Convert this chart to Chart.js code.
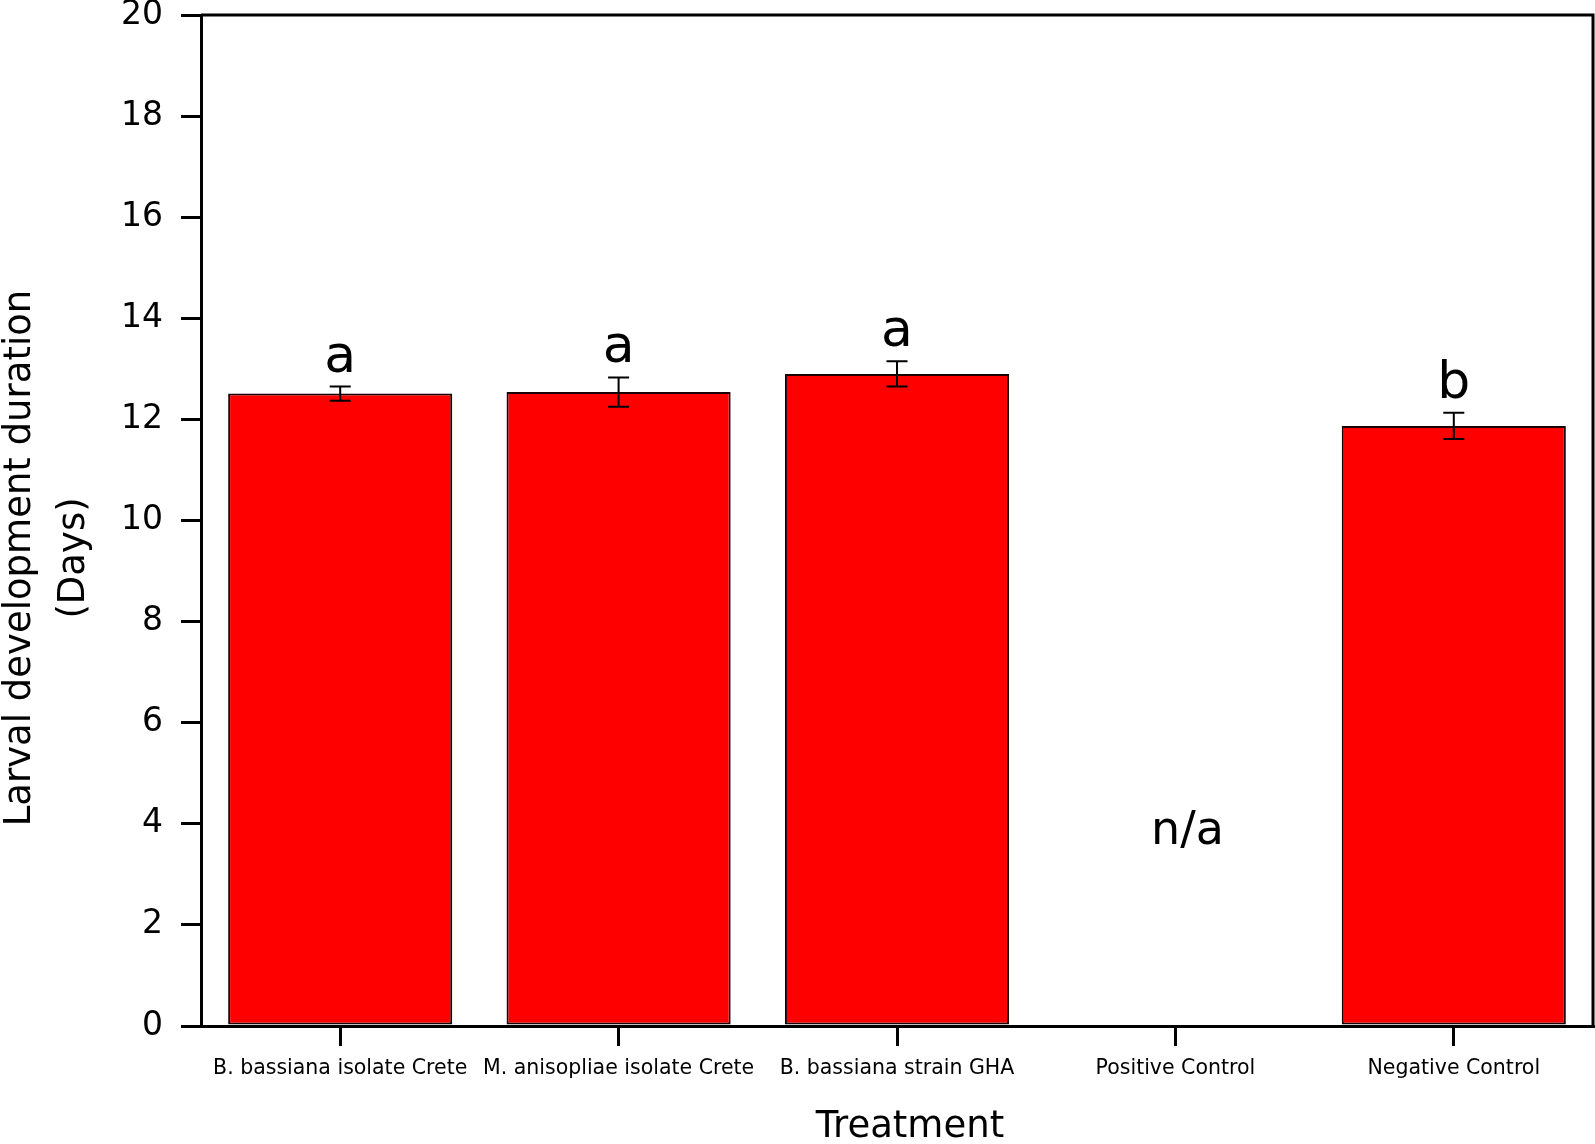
<!DOCTYPE html>
<html>
<head>
<meta charset="utf-8">
<script src="https://cdn.jsdelivr.net/npm/chart.js@4.4.0/dist/chart.umd.min.js"></script>
<style>
  html, body { margin: 0; padding: 0; background: #fff; }
  #wrap { width: 1595px; height: 1144px; }
</style>
</head>
<body>
<div id="wrap"><canvas id="myChart" width="1595" height="1144"></canvas></div>
<script>
var treatments = ['B. bassiana isolate Crete', 'M. anisopliae isolate Crete', 'B. bassiana strain GHA', 'Positive Control', 'Negative Control'];
var meanDays = [12.51, 12.54, 12.90, null, 11.87];
var errDays = [0.14, 0.29, 0.25, null, 0.26];
var letters = ['a', 'a', 'a', '', 'b'];
var missingText = ['', '', '', 'n/a', ''];

var FONT = "'DejaVu Sans', 'Liberation Sans', Arial, sans-serif";

// error bars, significance letters, n/a, frame and axis titles
var extras = {
  id: 'extras',
  afterDatasetsDraw: function(chart) {
    var ctx = chart.ctx;
    var x = chart.scales.x, y = chart.scales.y;
    var area = chart.chartArea;
    ctx.save();
    ctx.strokeStyle = '#000';
    ctx.fillStyle = '#000';
    ctx.lineWidth = 2;
    for (var i = 0; i < treatments.length; i++) {
      var cx = x.getPixelForValue(i);
      if (meanDays[i] != null) {
        var top = y.getPixelForValue(meanDays[i] + errDays[i]);
        var bot = y.getPixelForValue(meanDays[i] - errDays[i]);
        ctx.beginPath();
        ctx.moveTo(cx, top); ctx.lineTo(cx, bot);
        ctx.moveTo(cx - 10.5, top); ctx.lineTo(cx + 10.5, top);
        ctx.moveTo(cx - 10.5, bot); ctx.lineTo(cx + 10.5, bot);
        ctx.stroke();
        ctx.font = '52px ' + FONT;
        ctx.textAlign = 'center';
        ctx.textBaseline = 'alphabetic';
        ctx.fillText(letters[i], cx, top - 15);
      } else if (missingText[i]) {
        ctx.font = '46px ' + FONT;
        ctx.textAlign = 'center';
        ctx.textBaseline = 'alphabetic';
        ctx.fillText(missingText[i], cx + 12, y.getPixelForValue(3.6));
      }
    }
    // top and right frame
    ctx.lineWidth = 3;
    ctx.beginPath();
    ctx.moveTo(area.left, area.top);
    ctx.lineTo(area.right, area.top);
    ctx.lineTo(area.right, area.bottom);
    ctx.stroke();

    // axis titles
    ctx.font = '37px ' + FONT;
    ctx.textAlign = 'center';
    ctx.textBaseline = 'alphabetic';
    ctx.fillText('Treatment', 910, 1137);
    ctx.translate(0, 558);
    ctx.rotate(-Math.PI / 2);
    ctx.fillText('Larval development duration', 0, 30);
    ctx.fillText('(Days)', 0, 84);
    ctx.restore();
  }
};

var ctx = document.getElementById('myChart');
new Chart(ctx, {
  type: 'bar',
  data: {
    labels: treatments,
    datasets: [{
      data: meanDays,
      backgroundColor: '#ff0000',
      borderColor: '#1a0000',
      borderWidth: 2,
      borderSkipped: false,
      categoryPercentage: 1.0,
      barPercentage: 0.805
    }]
  },
  options: {
    responsive: false,
    animation: false,
    devicePixelRatio: 1,
    layout: { padding: { top: 15, right: 2, left: 0, bottom: 0 } },
    plugins: { legend: { display: false }, tooltip: { enabled: false } },
    scales: {
      x: {
        grid: { display: true, offset: false, drawOnChartArea: false, drawTicks: true, tickLength: 20, color: '#000', lineWidth: 3 },
        border: { display: true, color: '#000', width: 3 },
        ticks: { color: '#000', font: { family: FONT, size: 20.5 }, padding: 10, maxRotation: 0, autoSkip: false },
        afterFit: function(scale) {
          scale.height = 118;
          scale.paddingLeft = 0; scale.paddingRight = 0;
        }
      },
      y: {
        min: 0,
        max: 20,
        grid: { display: true, drawOnChartArea: false, drawTicks: true, tickLength: 20, color: '#000', lineWidth: 3 },
        border: { display: true, color: '#000', width: 3 },
        ticks: { stepSize: 2, color: '#000', font: { family: FONT, size: 33 }, padding: 18 },
        afterFit: function(scale) {
          scale.width = 201;
          scale.paddingTop = 0; scale.paddingBottom = 0;
        }
      }
    }
  },
  plugins: [extras]
});
</script>
</body>
</html>
